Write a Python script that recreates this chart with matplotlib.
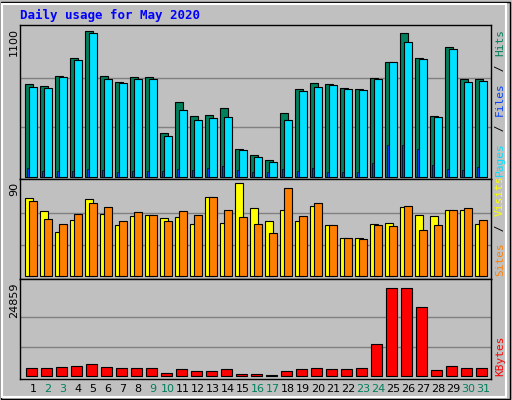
import numpy as np
import matplotlib.pyplot as plt
from matplotlib.patches import Rectangle

days = np.arange(1, 32)
weekend = [2, 3, 9, 10, 16, 17, 23, 24, 30, 31]

# top panel, read in zoomed pixels then scaled to 1100
hits_px = [247, 253, 223, 169, 88, 223, 241, 226, 226, 397, 304, 346, 343, 322, 445, 463,
           478, 337, 262, 244, 247, 259, 262, 229, 181, 94, 169, 346, 136, 232, 232]
pages_px = [256, 259, 226, 175, 94, 232, 244, 232, 232, 406, 328, 358, 352, 349, 448, 470,
            484, 358, 268, 256, 250, 262, 265, 232, 181, 121, 172, 349, 142, 241, 238]
files_px = [502, 511, 511, 511, 505, 508, 514, 511, 511, 511, 505, 508, 502, 496, 508, 514,
            517, 505, 511, 502, 514, 514, 517, 487, 433, 433, 445, 493, 505, 508, 499]
hits = [(530 - p) / 452 * 1100 for p in hits_px]
pages = [(530 - p) / 452 * 1100 for p in pages_px]
files = [(530 - p) / 452 * 1100 for p in files_px]

visits_px = [58, 97, 160, 124, 61, 106, 139, 112, 109, 118, 115, 136, 55, 133, 13, 88,
             127, 94, 127, 82, 139, 178, 178, 136, 133, 85, 109, 112, 94, 94, 136]
sites_px = [67, 121, 136, 106, 73, 85, 127, 100, 109, 127, 97, 109, 55, 94, 115, 136,
            163, 28, 112, 73, 139, 178, 181, 139, 142, 82, 154, 139, 94, 88, 124]
visits = [(290 - p) / 280 * 90 for p in visits_px]
sites = [(290 - p) / 280 * 90 for p in sites_px]

kb_px = [562, 562, 559, 556, 550, 559, 562, 562, 562, 577, 565, 571, 571, 565, 580, 580,
         583, 571, 565, 562, 565, 565, 562, 487, 313, 313, 373, 568, 556, 562, 562]
kbytes = [(587 - p) / 274 * 24859 for p in kb_px]

W, H = 512, 400
fig = plt.figure(figsize=(W / 100, H / 100), dpi=100)
fig.patch.set_facecolor('#C0C0C0')
# bevel border
fig.add_artist(Rectangle((1 / W, 1 / H), (W - 3) / W, (H - 3) / H, transform=fig.transFigure,
                         fill=False, ec='black', lw=1))
fig.add_artist(Rectangle((2 / W, 3 / H), (W - 8) / W, (H - 7) / H, transform=fig.transFigure,
                         fill=False, ec='white', lw=1.5))

mono = 'DejaVu Sans Mono'


def panel(y0, y1):
    ax = fig.add_axes([20 / W, 1 - y1 / H, 471 / W, (y1 - y0) / H])
    ax.set_facecolor('#C0C0C0')
    ax.set_xlim(0, 471 / 15)
    ax.set_xticks([])
    ax.set_yticks([])
    for s in ax.spines.values():
        s.set_color('black')
        s.set_linewidth(1)
    return ax


left = days - 0.67

ax1 = panel(25, 179)
ax1.set_ylim(-1100 * 0.015, 1100 * 1.02)
for g in (1100 / 3, 2200 / 3):
    ax1.axhline(g, color='#808080', lw=1, zorder=0)
ax1.bar(left, hits, width=0.53, align='edge', color='#00805C', ec='black', lw=0.8)
ax1.bar(left + 0.27, pages, width=0.53, align='edge', color='#00E0FF', ec='black', lw=0.8)
ax1.bar(left + 0.13, files, width=0.13, align='edge', color='#0040FF', ec='black', lw=0.5)

ax2 = panel(179, 279)
ax2.set_ylim(-90 * 0.03, 90 * 1.03)
for g in (30, 60):
    ax2.axhline(g, color='#808080', lw=1, zorder=0)
ax2.bar(left, visits, width=0.53, align='edge', color='#FFFF00', ec='black', lw=0.8)
ax2.bar(left + 0.27, sites, width=0.53, align='edge', color='#FF8000', ec='black', lw=0.8)

ax3 = panel(279, 379)
ax3.set_ylim(-24859 * 0.03, 24859 * 1.1)
for g in (24859 / 3, 2 * 24859 / 3):
    ax3.axhline(g, color='#808080', lw=1, zorder=0)
ax3.bar(left + 0.07, kbytes, width=0.73, align='edge', color='#FF0000', ec='black', lw=0.8)
for d in days:
    ax3.text(d - 0.13, -0.05, str(d), transform=ax3.get_xaxis_transform(),
             ha='center', va='top', fontsize=8, family='DejaVu Sans',
             color='#00805C' if d in weekend else 'black')

fig.text(20 / W, 1 - 15 / H, 'Daily usage for May 2020', color='#0000FF', fontsize=9,
         fontweight='bold', family=mono, va='center')
for y, lab in ((28, '1100'), (182, '90'), (283, '24859')):
    fig.text(14 / W, 1 - y / H, lab, rotation=90, ha='center', va='top', fontsize=8)

# right-side legends, bottom to top
def vlegend(ybot, parts):
    y = ybot
    for txt, col in parts:
        t = fig.text(500 / W, 1 - y / H, txt, rotation=90, ha='center', va='bottom',
                     fontsize=8, family=mono, color=col)
        y -= len(txt) * 7.5


vlegend(176, [('Pages', '#00E0FF'), (' / ', 'black'), ('Files', '#0040FF'),
              (' / ', 'black'), ('Hits', '#00805C')])
vlegend(276, [('Sites', '#FF8000'), (' / ', 'black'), ('Visits', '#FFFF00')])
vlegend(376, [('KBytes', '#FF0000')])

fig.savefig('out.png', dpi=100, facecolor=fig.get_facecolor())
